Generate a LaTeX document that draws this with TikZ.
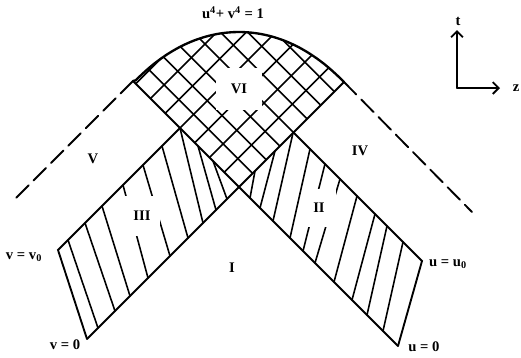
\documentclass[tikz,border=0pt]{standalone}
\usepackage{fontspec}
\setmainfont{Liberation Serif}
\usetikzlibrary{arrows.meta}

\tikzset{
  edge/.style={line width=1.6pt},
  hatch/.style={line width=1.35pt},
  lab/.style={font=\fontsize{12.5}{14}\selectfont\bfseries, inner sep=0pt},
  gapbox/.style={lab, fill=white},
}

\begin{document}
\begin{tikzpicture}[x=0.03cm, y=-0.03cm, line cap=round]
    \useasboundingbox (0,0) rectangle (521,358);

    % Corners
    \coordinate (O) at (239,187);
    \coordinate (vend) at (133,81);
    \coordinate (uend) at (344,82);
    \coordinate (vtop) at (58,250);
    \coordinate (vbot) at (87,339);
    \coordinate (vcor) at (180,128);
    \coordinate (utop) at (422,261);
    \coordinate (ubot) at (398,346);
    \coordinate (ucor) at (293.5,132.5);
    \coordinate (vdash) at (16,198);
    \coordinate (udash) at (472,212);

    % Region VI, cross-hatched
    \begin{scope}
        \clip (vend) -- (O) -- (uend)
            -- plot[domain=1:89, samples=60] ({239+105*(cos(\x)^0.877-sin(\x)^0.877)}, {187-105*(cos(\x)^0.877+sin(\x)^0.877)})
            -- cycle;
        \foreach \k in {1,...,8} {
            \draw[hatch] (100,{100-52-27.25*\k}) -- (400,{400-52-27.25*\k});
            \draw[hatch] (100,{426-29.5*\k-100}) -- (400,{426-29.5*\k-400});
        }
    \end{scope}

    % Region III
    \foreach \a/\b/\c/\d in {68/240/98/328, 85/223/115/311, 102/206/130/296, 123/185/148/278,
        143/165/170/256, 162/146/188/238, 180/128/203/223, 198/146/216/210, 213/161/227/199}
        \draw[hatch] (\a,\b) -- (\c,\d);

    % Region II
    \foreach \a/\b/\c/\d in {403/242/383/331, 387/226/367/315, 375/214/352/300, 357/196/334/282,
        340/179/315/263, 325/164/303/251, 310/149/290/238, 293/133/273/221, 275/151/260/208,
        255/171/250/198}
        \draw[hatch] (\a,\b) -- (\c,\d);

    % Boundaries
    \draw[edge] (vend) -- (O) -- (ubot);
    \draw[edge] (uend) -- (O) -- (vbot);
    \draw[edge] (vbot) -- (vtop) -- (vcor);
    \draw[edge] (ubot) -- (utop) -- (ucor);
    \draw[line width=2pt] (uend)
        -- plot[domain=0.5:89.5, samples=60] ({239+105*(cos(\x)^0.877-sin(\x)^0.877)}, {187-105*(cos(\x)^0.877+sin(\x)^0.877)})
        -- (vend);
    \draw[edge, dash pattern=on 15pt off 6pt] (vend) -- (vdash);
    \draw[edge, dash pattern=on 15pt off 6pt] (uend) -- (udash);

    % Labels
    \node[gapbox, minimum width=1.38cm, minimum height=1.26cm] (six) at (239,89) {VI};
    \node[gapbox, minimum width=1.08cm, minimum height=1.2cm] (three) at (142,216) {III};
    \node[gapbox, minimum width=1.02cm, minimum height=1.14cm] (two) at (319,208) {II};
    \node[lab] (one) at (232,268) {I};
    \node[lab] (five) at (93,159) {V};
    \node[lab] (four) at (360,151) {IV};
    \node[lab] (curve) at (233,13) {u\textsuperscript{4}+ v\textsuperscript{4} = 1};
    \node[lab] (vv0) at (24,257) {v = v\textsubscript{0}};
    \node[lab] (v0) at (65,345) {v = 0};
    \node[lab] (uu0) at (448,264) {u = u\textsubscript{0}};
    \node[lab] (u0) at (424,347) {u = 0};

    % Axes
    \coordinate (ax) at (457,88);
    \coordinate (ttip) at (457,30);
    \coordinate (ztip) at (500,88);
    \draw[edge, -{Straight Barb[length=5pt, width=10pt]}] (ax) -- (ttip);
    \draw[edge, -{Straight Barb[length=5pt, width=10pt]}] (ax) -- (ztip);
    \node[lab] (tlab) at (458,21) {t};
    \node[lab] (zlab) at (516,88) {z};
\end{tikzpicture}
\end{document}
